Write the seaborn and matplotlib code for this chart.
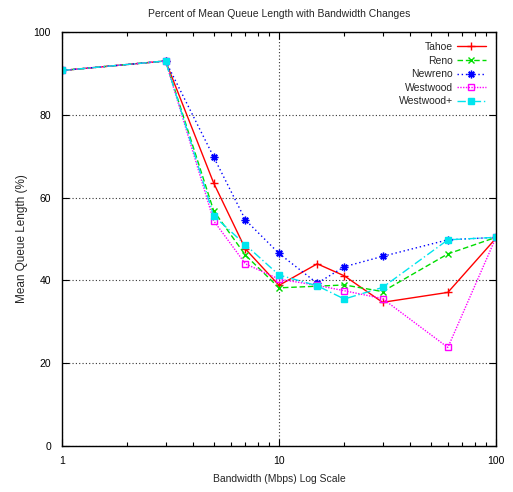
import matplotlib
matplotlib.use("Agg")
import matplotlib.pyplot as plt
from matplotlib.ticker import LogLocator, NullFormatter, FixedLocator
import pandas as pd
import seaborn as sns

bandwidth = [1, 3, 5, 7, 10, 15, 20, 30, 60, 100]
tahoe = [90.7, 93.0, 63.5, 47.6, 38.8, 44.0, 41.1, 34.7, 37.1, 50.2]
reno = [90.7, 93.0, 56.8, 46.1, 38.2, 38.6, 38.9, 37.3, 46.4, 50.4]
newreno = [90.7, 93.0, 69.8, 54.6, 46.5, 39.3, 43.3, 45.8, 49.8, 50.4]
westwood = [90.7, 93.0, 54.4, 44.0, 40.3, 38.8, 37.5, 35.6, 23.8, 50.4]
westwood_plus = [90.7, 93.0, 55.6, 48.6, 41.3, 38.7, 35.5, 38.3, 49.8, 50.4]

series_names = ["Tahoe", "Reno", "Newreno", "Westwood", "Westwood+"]
series_values = [tahoe, reno, newreno, westwood, westwood_plus]

df = pd.DataFrame(
    [(n, x, y) for n, vals in zip(series_names, series_values) for x, y in zip(bandwidth, vals)],
    columns=["protocol", "bandwidth", "queue"],
)

sns.set_style("ticks")
plt.rcParams["font.family"] = ["Liberation Sans Narrow", "Liberation Sans", "DejaVu Sans"]

styles = {
    "Tahoe": dict(color="#ff0000", marker="+", linestyle="-", ms=6, mfc="none"),
    "Reno": dict(color="#00dd00", marker="x", linestyle=(0, (4, 2)), ms=4.5, mfc="none"),
    "Newreno": dict(color="#0000ff", marker=(8, 2, 0), linestyle=(0, (1, 2)), ms=5.5, mfc="none"),
    "Westwood": dict(color="#ff00ff", marker="s", linestyle=(0, (1, 1)), ms=4.5, mfc="none"),
    "Westwood+": dict(color="#00e5ee", marker="s", linestyle=(0, (6, 2, 1, 2)), ms=5, mfc="#00e5ee"),
}

fig = plt.figure(figsize=(5.13, 4.92), dpi=100)
ax = fig.add_axes([0.1209, 0.0935, 0.8460, 0.8415])

for name in series_names:
    st = styles[name]
    sub = df[df["protocol"] == name]
    sns.lineplot(
        data=sub, x="bandwidth", y="queue", ax=ax, label=name,
        color=st["color"], linestyle=st["linestyle"], linewidth=1.0,
        marker=st["marker"], markersize=st["ms"], markerfacecolor=st["mfc"],
        markeredgecolor=st["color"], markeredgewidth=1.0,
    )

ax.set_xscale("log")
ax.set_xlim(1, 100)
ax.set_ylim(0, 100)
ax.xaxis.set_major_locator(FixedLocator([1, 10, 100]))
ax.set_xticklabels(["1", "10", "100"])
ax.xaxis.set_minor_locator(LogLocator(base=10, subs=range(2, 10)))
ax.xaxis.set_minor_formatter(NullFormatter())
ax.set_yticks([0, 20, 40, 60, 80, 100])

ax.tick_params(which="both", direction="in", top=True, right=True, labelsize=7.5, colors="black")
ax.tick_params(axis="y", pad=8)
ax.tick_params(axis="x", pad=7)
ax.tick_params(which="major", length=5, width=0.8)
ax.tick_params(which="minor", length=3, width=0.8)
for s in ax.spines.values():
    s.set_linewidth(1.0)
    s.set_color("black")

ax.grid(True, which="major", linestyle=(0, (1, 2)), color="#333333", linewidth=0.8)

ax.set_xlabel("Bandwidth (Mbps) Log Scale", fontsize=7.5, labelpad=6)
ax.set_ylabel("Mean Queue Length (%)", fontsize=8.5, labelpad=4)
ax.set_title("Percent of Mean Queue Length with Bandwidth Changes", fontsize=7.5, pad=11)

leg = ax.legend(
    loc="upper right", frameon=False, markerfirst=False, fontsize=7.5,
    handlelength=2.8, handletextpad=0.4, labelspacing=0.35,
    bbox_to_anchor=(0.995, 0.995), borderaxespad=0.35,
)
for t in leg.get_texts():
    t.set_ha("right")
leg._legend_box.align = "right"

fig.savefig("out.png", dpi=100)
